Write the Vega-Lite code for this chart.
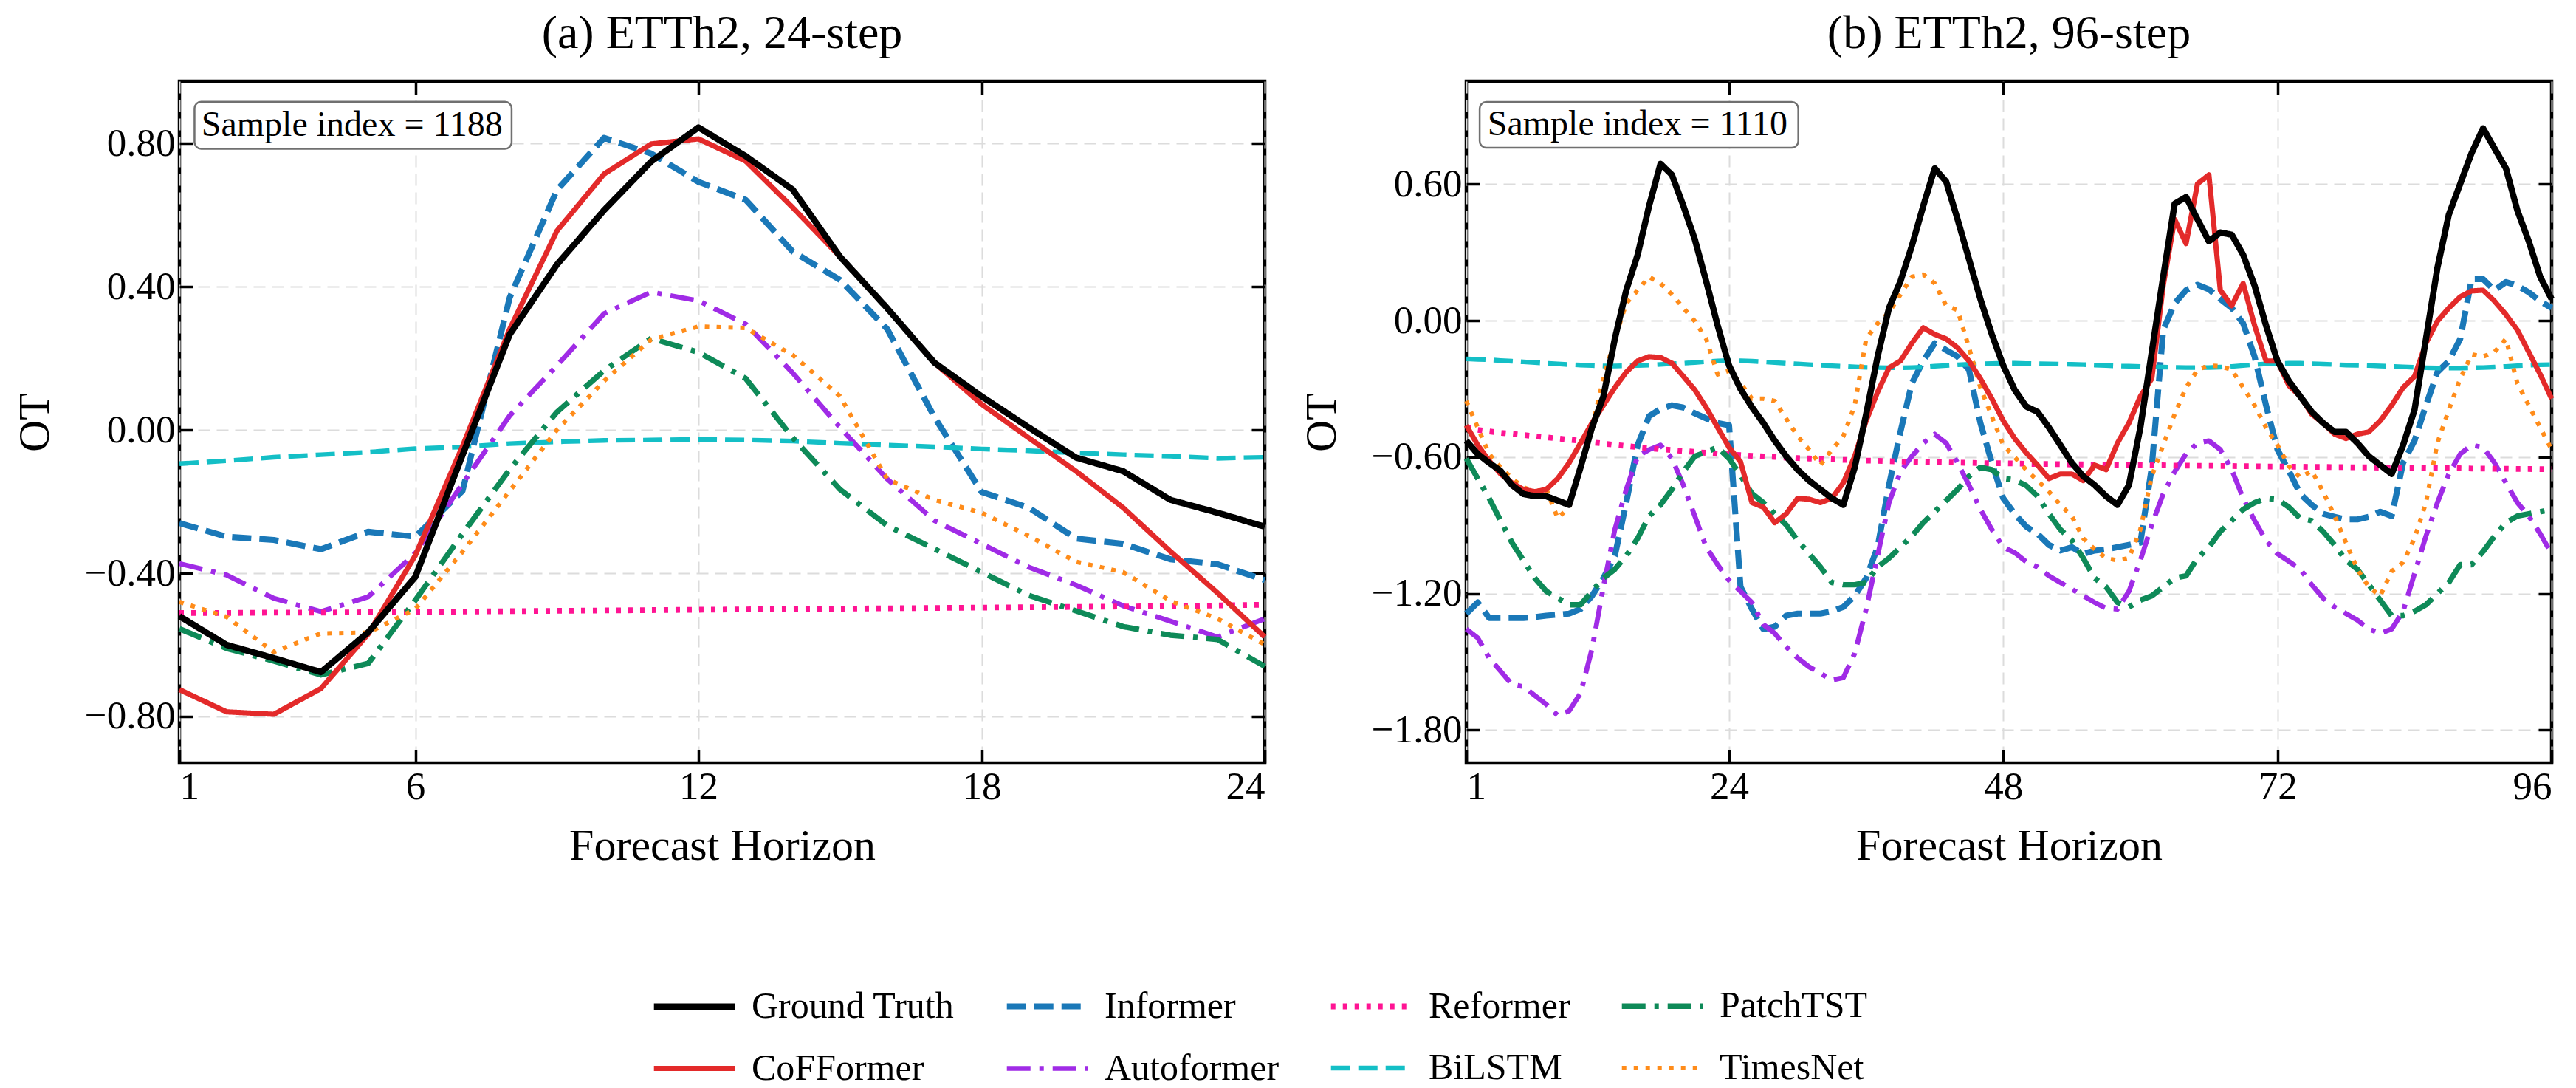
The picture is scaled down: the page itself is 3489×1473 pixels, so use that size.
{
  "$schema": "https://vega.github.io/schema/vega-lite/v6.json",
  "background": "white",
  "padding": {"left": 15, "top": 12, "right": 25, "bottom": 5},
  "config": {
    "font": "Liberation Serif",
    "view": {"stroke": "black", "strokeWidth": 4.5},
    "axis": {
      "domain": false,
      "tickSize": -18,
      "tickWidth": 3.5,
      "tickColor": "black",
      "labelFont": "Liberation Serif",
      "labelFontSize": 53,
      "labelColor": "black",
      "labelPadding": 24,
      "titleFont": "Liberation Serif",
      "titleFontSize": 60,
      "titleFontWeight": "normal",
      "titleColor": "black",
      "gridColor": "#dcdcdc",
      "gridDash": [16, 9],
      "gridWidth": 2
    },
    "title": {"font": "Liberation Serif", "fontSize": 64, "fontWeight": "normal", "color": "black", "offset": 30}
  },
  "datasets": {
    "h24": [
      {"step":1,"model":"Informer","OT":-0.26},{"step":2,"model":"Informer","OT":-0.298},{"step":3,"model":"Informer","OT":-0.307},{"step":4,"model":"Informer","OT":-0.333},{"step":5,"model":"Informer","OT":-0.284},{"step":6,"model":"Informer","OT":-0.298},{"step":7,"model":"Informer","OT":-0.17},{"step":8,"model":"Informer","OT":0.37},{"step":9,"model":"Informer","OT":0.67},{"step":10,"model":"Informer","OT":0.816},{"step":11,"model":"Informer","OT":0.772},{"step":12,"model":"Informer","OT":0.693},{"step":13,"model":"Informer","OT":0.643},{"step":14,"model":"Informer","OT":0.498},{"step":15,"model":"Informer","OT":0.419},{"step":16,"model":"Informer","OT":0.282},{"step":17,"model":"Informer","OT":0.036},{"step":18,"model":"Informer","OT":-0.173},{"step":19,"model":"Informer","OT":-0.217},{"step":20,"model":"Informer","OT":-0.303},{"step":21,"model":"Informer","OT":-0.318},{"step":22,"model":"Informer","OT":-0.361},{"step":23,"model":"Informer","OT":-0.375},{"step":24,"model":"Informer","OT":-0.419},
      {"step":1,"model":"Autoformer","OT":-0.373},{"step":2,"model":"Autoformer","OT":-0.405},{"step":3,"model":"Autoformer","OT":-0.47},{"step":4,"model":"Autoformer","OT":-0.507},{"step":5,"model":"Autoformer","OT":-0.466},{"step":6,"model":"Autoformer","OT":-0.344},{"step":7,"model":"Autoformer","OT":-0.15},{"step":8,"model":"Autoformer","OT":0.04},{"step":9,"model":"Autoformer","OT":0.18},{"step":10,"model":"Autoformer","OT":0.325},{"step":11,"model":"Autoformer","OT":0.385},{"step":12,"model":"Autoformer","OT":0.361},{"step":13,"model":"Autoformer","OT":0.296},{"step":14,"model":"Autoformer","OT":0.159},{"step":15,"model":"Autoformer","OT":0.007},{"step":16,"model":"Autoformer","OT":-0.137},{"step":17,"model":"Autoformer","OT":-0.253},{"step":18,"model":"Autoformer","OT":-0.318},{"step":19,"model":"Autoformer","OT":-0.383},{"step":20,"model":"Autoformer","OT":-0.433},{"step":21,"model":"Autoformer","OT":-0.491},{"step":22,"model":"Autoformer","OT":-0.534},{"step":23,"model":"Autoformer","OT":-0.578},{"step":24,"model":"Autoformer","OT":-0.527},
      {"step":1,"model":"Reformer","OT":-0.511},{"step":2,"model":"Reformer","OT":-0.511},{"step":3,"model":"Reformer","OT":-0.51},{"step":4,"model":"Reformer","OT":-0.51},{"step":5,"model":"Reformer","OT":-0.509},{"step":6,"model":"Reformer","OT":-0.508},{"step":7,"model":"Reformer","OT":-0.507},{"step":8,"model":"Reformer","OT":-0.506},{"step":9,"model":"Reformer","OT":-0.505},{"step":10,"model":"Reformer","OT":-0.504},{"step":11,"model":"Reformer","OT":-0.503},{"step":12,"model":"Reformer","OT":-0.502},{"step":13,"model":"Reformer","OT":-0.501},{"step":14,"model":"Reformer","OT":-0.5},{"step":15,"model":"Reformer","OT":-0.499},{"step":16,"model":"Reformer","OT":-0.498},{"step":17,"model":"Reformer","OT":-0.497},{"step":18,"model":"Reformer","OT":-0.496},{"step":19,"model":"Reformer","OT":-0.495},{"step":20,"model":"Reformer","OT":-0.494},{"step":21,"model":"Reformer","OT":-0.493},{"step":22,"model":"Reformer","OT":-0.492},{"step":23,"model":"Reformer","OT":-0.49},{"step":24,"model":"Reformer","OT":-0.488},
      {"step":1,"model":"BiLSTM","OT":-0.094},{"step":2,"model":"BiLSTM","OT":-0.086},{"step":3,"model":"BiLSTM","OT":-0.076},{"step":4,"model":"BiLSTM","OT":-0.069},{"step":5,"model":"BiLSTM","OT":-0.062},{"step":6,"model":"BiLSTM","OT":-0.052},{"step":7,"model":"BiLSTM","OT":-0.047},{"step":8,"model":"BiLSTM","OT":-0.038},{"step":9,"model":"BiLSTM","OT":-0.033},{"step":10,"model":"BiLSTM","OT":-0.029},{"step":11,"model":"BiLSTM","OT":-0.028},{"step":12,"model":"BiLSTM","OT":-0.026},{"step":13,"model":"BiLSTM","OT":-0.028},{"step":14,"model":"BiLSTM","OT":-0.031},{"step":15,"model":"BiLSTM","OT":-0.037},{"step":16,"model":"BiLSTM","OT":-0.042},{"step":17,"model":"BiLSTM","OT":-0.047},{"step":18,"model":"BiLSTM","OT":-0.053},{"step":19,"model":"BiLSTM","OT":-0.058},{"step":20,"model":"BiLSTM","OT":-0.064},{"step":21,"model":"BiLSTM","OT":-0.069},{"step":22,"model":"BiLSTM","OT":-0.073},{"step":23,"model":"BiLSTM","OT":-0.079},{"step":24,"model":"BiLSTM","OT":-0.076},
      {"step":1,"model":"PatchTST","OT":-0.555},{"step":2,"model":"PatchTST","OT":-0.61},{"step":3,"model":"PatchTST","OT":-0.645},{"step":4,"model":"PatchTST","OT":-0.684},{"step":5,"model":"PatchTST","OT":-0.652},{"step":6,"model":"PatchTST","OT":-0.475},{"step":7,"model":"PatchTST","OT":-0.29},{"step":8,"model":"PatchTST","OT":-0.11},{"step":9,"model":"PatchTST","OT":0.05},{"step":10,"model":"PatchTST","OT":0.166},{"step":11,"model":"PatchTST","OT":0.256},{"step":12,"model":"PatchTST","OT":0.217},{"step":13,"model":"PatchTST","OT":0.144},{"step":14,"model":"PatchTST","OT":-0.022},{"step":15,"model":"PatchTST","OT":-0.166},{"step":16,"model":"PatchTST","OT":-0.267},{"step":17,"model":"PatchTST","OT":-0.332},{"step":18,"model":"PatchTST","OT":-0.397},{"step":19,"model":"PatchTST","OT":-0.462},{"step":20,"model":"PatchTST","OT":-0.505},{"step":21,"model":"PatchTST","OT":-0.549},{"step":22,"model":"PatchTST","OT":-0.573},{"step":23,"model":"PatchTST","OT":-0.585},{"step":24,"model":"PatchTST","OT":-0.66},
      {"step":1,"model":"TimesNet","OT":-0.48},{"step":2,"model":"TimesNet","OT":-0.522},{"step":3,"model":"TimesNet","OT":-0.62},{"step":4,"model":"TimesNet","OT":-0.568},{"step":5,"model":"TimesNet","OT":-0.566},{"step":6,"model":"TimesNet","OT":-0.5},{"step":7,"model":"TimesNet","OT":-0.34},{"step":8,"model":"TimesNet","OT":-0.17},{"step":9,"model":"TimesNet","OT":0.0},{"step":10,"model":"TimesNet","OT":0.137},{"step":11,"model":"TimesNet","OT":0.253},{"step":12,"model":"TimesNet","OT":0.289},{"step":13,"model":"TimesNet","OT":0.285},{"step":14,"model":"TimesNet","OT":0.209},{"step":15,"model":"TimesNet","OT":0.094},{"step":16,"model":"TimesNet","OT":-0.137},{"step":17,"model":"TimesNet","OT":-0.195},{"step":18,"model":"TimesNet","OT":-0.231},{"step":19,"model":"TimesNet","OT":-0.296},{"step":20,"model":"TimesNet","OT":-0.368},{"step":21,"model":"TimesNet","OT":-0.397},{"step":22,"model":"TimesNet","OT":-0.477},{"step":23,"model":"TimesNet","OT":-0.527},{"step":24,"model":"TimesNet","OT":-0.599},
      {"step":1,"model":"CoFFormer","OT":-0.725},{"step":2,"model":"CoFFormer","OT":-0.787},{"step":3,"model":"CoFFormer","OT":-0.794},{"step":4,"model":"CoFFormer","OT":-0.722},{"step":5,"model":"CoFFormer","OT":-0.57},{"step":6,"model":"CoFFormer","OT":-0.35},{"step":7,"model":"CoFFormer","OT":-0.045},{"step":8,"model":"CoFFormer","OT":0.282},{"step":9,"model":"CoFFormer","OT":0.556},{"step":10,"model":"CoFFormer","OT":0.715},{"step":11,"model":"CoFFormer","OT":0.799},{"step":12,"model":"CoFFormer","OT":0.813},{"step":13,"model":"CoFFormer","OT":0.751},{"step":14,"model":"CoFFormer","OT":0.621},{"step":15,"model":"CoFFormer","OT":0.484},{"step":16,"model":"CoFFormer","OT":0.34},{"step":17,"model":"CoFFormer","OT":0.188},{"step":18,"model":"CoFFormer","OT":0.072},{"step":19,"model":"CoFFormer","OT":-0.022},{"step":20,"model":"CoFFormer","OT":-0.115},{"step":21,"model":"CoFFormer","OT":-0.217},{"step":22,"model":"CoFFormer","OT":-0.339},{"step":23,"model":"CoFFormer","OT":-0.455},{"step":24,"model":"CoFFormer","OT":-0.578},
      {"step":1,"model":"Ground Truth","OT":-0.52},{"step":2,"model":"Ground Truth","OT":-0.6},{"step":3,"model":"Ground Truth","OT":-0.637},{"step":4,"model":"Ground Truth","OT":-0.676},{"step":5,"model":"Ground Truth","OT":-0.565},{"step":6,"model":"Ground Truth","OT":-0.41},{"step":7,"model":"Ground Truth","OT":-0.07},{"step":8,"model":"Ground Truth","OT":0.267},{"step":9,"model":"Ground Truth","OT":0.462},{"step":10,"model":"Ground Truth","OT":0.614},{"step":11,"model":"Ground Truth","OT":0.75},{"step":12,"model":"Ground Truth","OT":0.845},{"step":13,"model":"Ground Truth","OT":0.765},{"step":14,"model":"Ground Truth","OT":0.671},{"step":15,"model":"Ground Truth","OT":0.484},{"step":16,"model":"Ground Truth","OT":0.34},{"step":17,"model":"Ground Truth","OT":0.188},{"step":18,"model":"Ground Truth","OT":0.094},{"step":19,"model":"Ground Truth","OT":0.007},{"step":20,"model":"Ground Truth","OT":-0.077},{"step":21,"model":"Ground Truth","OT":-0.115},{"step":22,"model":"Ground Truth","OT":-0.195},{"step":23,"model":"Ground Truth","OT":-0.231},{"step":24,"model":"Ground Truth","OT":-0.27}
    ],
    "h96": [
      {"step":1,"model":"Informer","OT":-1.288},{"step":2,"model":"Informer","OT":-1.239},{"step":3,"model":"Informer","OT":-1.307},{"step":4,"model":"Informer","OT":-1.307},{"step":5,"model":"Informer","OT":-1.307},{"step":6,"model":"Informer","OT":-1.307},{"step":7,"model":"Informer","OT":-1.303},{"step":8,"model":"Informer","OT":-1.297},{"step":9,"model":"Informer","OT":-1.293},{"step":10,"model":"Informer","OT":-1.288},
      {"step":11,"model":"Informer","OT":-1.268},{"step":12,"model":"Informer","OT":-1.21},{"step":13,"model":"Informer","OT":-1.132},{"step":14,"model":"Informer","OT":-1.034},{"step":15,"model":"Informer","OT":-0.8},{"step":16,"model":"Informer","OT":-0.547},{"step":17,"model":"Informer","OT":-0.42},{"step":18,"model":"Informer","OT":-0.388},{"step":19,"model":"Informer","OT":-0.372},{"step":20,"model":"Informer","OT":-0.382},
      {"step":21,"model":"Informer","OT":-0.407},{"step":22,"model":"Informer","OT":-0.43},{"step":23,"model":"Informer","OT":-0.45},{"step":24,"model":"Informer","OT":-0.46},{"step":25,"model":"Informer","OT":-1.17},{"step":26,"model":"Informer","OT":-1.268},{"step":27,"model":"Informer","OT":-1.356},{"step":28,"model":"Informer","OT":-1.346},{"step":29,"model":"Informer","OT":-1.297},{"step":30,"model":"Informer","OT":-1.288},
      {"step":31,"model":"Informer","OT":-1.288},{"step":32,"model":"Informer","OT":-1.288},{"step":33,"model":"Informer","OT":-1.278},{"step":34,"model":"Informer","OT":-1.259},{"step":35,"model":"Informer","OT":-1.21},{"step":36,"model":"Informer","OT":-1.132},{"step":37,"model":"Informer","OT":-0.996},{"step":38,"model":"Informer","OT":-0.723},{"step":39,"model":"Informer","OT":-0.489},{"step":40,"model":"Informer","OT":-0.275},
      {"step":41,"model":"Informer","OT":-0.177},{"step":42,"model":"Informer","OT":-0.099},{"step":43,"model":"Informer","OT":-0.129},{"step":44,"model":"Informer","OT":-0.158},{"step":45,"model":"Informer","OT":-0.216},{"step":46,"model":"Informer","OT":-0.45},{"step":47,"model":"Informer","OT":-0.625},{"step":48,"model":"Informer","OT":-0.781},{"step":49,"model":"Informer","OT":-0.85},{"step":50,"model":"Informer","OT":-0.905},
      {"step":51,"model":"Informer","OT":-0.937},{"step":52,"model":"Informer","OT":-0.986},{"step":53,"model":"Informer","OT":-1.011},{"step":54,"model":"Informer","OT":-0.996},{"step":55,"model":"Informer","OT":-1.025},{"step":56,"model":"Informer","OT":-1.011},{"step":57,"model":"Informer","OT":-1.005},{"step":58,"model":"Informer","OT":-0.996},{"step":59,"model":"Informer","OT":-0.986},{"step":60,"model":"Informer","OT":-0.976},
      {"step":61,"model":"Informer","OT":-0.645},{"step":62,"model":"Informer","OT":-0.041},{"step":63,"model":"Informer","OT":0.076},{"step":64,"model":"Informer","OT":0.134},{"step":65,"model":"Informer","OT":0.158},{"step":66,"model":"Informer","OT":0.138},{"step":67,"model":"Informer","OT":0.095},{"step":68,"model":"Informer","OT":0.056},{"step":69,"model":"Informer","OT":-0.012},{"step":70,"model":"Informer","OT":-0.158},
      {"step":71,"model":"Informer","OT":-0.372},{"step":72,"model":"Informer","OT":-0.567},{"step":73,"model":"Informer","OT":-0.66},{"step":74,"model":"Informer","OT":-0.762},{"step":75,"model":"Informer","OT":-0.81},{"step":76,"model":"Informer","OT":-0.849},{"step":77,"model":"Informer","OT":-0.862},{"step":78,"model":"Informer","OT":-0.874},{"step":79,"model":"Informer","OT":-0.874},{"step":80,"model":"Informer","OT":-0.862},
      {"step":81,"model":"Informer","OT":-0.84},{"step":82,"model":"Informer","OT":-0.859},{"step":83,"model":"Informer","OT":-0.625},{"step":84,"model":"Informer","OT":-0.528},{"step":85,"model":"Informer","OT":-0.372},{"step":86,"model":"Informer","OT":-0.226},{"step":87,"model":"Informer","OT":-0.177},{"step":88,"model":"Informer","OT":-0.08},{"step":89,"model":"Informer","OT":0.183},{"step":90,"model":"Informer","OT":0.183},
      {"step":91,"model":"Informer","OT":0.134},{"step":92,"model":"Informer","OT":0.17},{"step":93,"model":"Informer","OT":0.154},{"step":94,"model":"Informer","OT":0.125},{"step":95,"model":"Informer","OT":0.086},{"step":96,"model":"Informer","OT":0.056},

      {"step":1,"model":"Autoformer","OT":-1.356},{"step":2,"model":"Autoformer","OT":-1.395},{"step":3,"model":"Autoformer","OT":-1.483},{"step":4,"model":"Autoformer","OT":-1.541},{"step":5,"model":"Autoformer","OT":-1.6},{"step":6,"model":"Autoformer","OT":-1.609},{"step":7,"model":"Autoformer","OT":-1.648},{"step":8,"model":"Autoformer","OT":-1.687},{"step":9,"model":"Autoformer","OT":-1.736},{"step":10,"model":"Autoformer","OT":-1.716},
      {"step":11,"model":"Autoformer","OT":-1.638},{"step":12,"model":"Autoformer","OT":-1.444},{"step":13,"model":"Autoformer","OT":-1.171},{"step":14,"model":"Autoformer","OT":-0.918},{"step":15,"model":"Autoformer","OT":-0.742},{"step":16,"model":"Autoformer","OT":-0.596},{"step":17,"model":"Autoformer","OT":-0.567},{"step":18,"model":"Autoformer","OT":-0.547},{"step":19,"model":"Autoformer","OT":-0.606},{"step":20,"model":"Autoformer","OT":-0.723},
      {"step":21,"model":"Autoformer","OT":-0.859},{"step":22,"model":"Autoformer","OT":-0.996},{"step":23,"model":"Autoformer","OT":-1.073},{"step":24,"model":"Autoformer","OT":-1.142},{"step":25,"model":"Autoformer","OT":-1.19},{"step":26,"model":"Autoformer","OT":-1.239},{"step":27,"model":"Autoformer","OT":-1.336},{"step":28,"model":"Autoformer","OT":-1.375},{"step":29,"model":"Autoformer","OT":-1.434},{"step":30,"model":"Autoformer","OT":-1.483},
      {"step":31,"model":"Autoformer","OT":-1.522},{"step":32,"model":"Autoformer","OT":-1.551},{"step":33,"model":"Autoformer","OT":-1.58},{"step":34,"model":"Autoformer","OT":-1.57},{"step":35,"model":"Autoformer","OT":-1.463},{"step":36,"model":"Autoformer","OT":-1.268},{"step":37,"model":"Autoformer","OT":-1.034},{"step":38,"model":"Autoformer","OT":-0.8},{"step":39,"model":"Autoformer","OT":-0.664},{"step":40,"model":"Autoformer","OT":-0.596},
      {"step":41,"model":"Autoformer","OT":-0.538},{"step":42,"model":"Autoformer","OT":-0.499},{"step":43,"model":"Autoformer","OT":-0.538},{"step":44,"model":"Autoformer","OT":-0.625},{"step":45,"model":"Autoformer","OT":-0.723},{"step":46,"model":"Autoformer","OT":-0.83},{"step":47,"model":"Autoformer","OT":-0.918},{"step":48,"model":"Autoformer","OT":-0.996},{"step":49,"model":"Autoformer","OT":-1.02},{"step":50,"model":"Autoformer","OT":-1.06},
      {"step":51,"model":"Autoformer","OT":-1.083},{"step":52,"model":"Autoformer","OT":-1.122},{"step":53,"model":"Autoformer","OT":-1.151},{"step":54,"model":"Autoformer","OT":-1.181},{"step":55,"model":"Autoformer","OT":-1.21},{"step":56,"model":"Autoformer","OT":-1.239},{"step":57,"model":"Autoformer","OT":-1.265},{"step":58,"model":"Autoformer","OT":-1.268},{"step":59,"model":"Autoformer","OT":-1.19},{"step":60,"model":"Autoformer","OT":-1.054},
      {"step":61,"model":"Autoformer","OT":-0.898},{"step":62,"model":"Autoformer","OT":-0.762},{"step":63,"model":"Autoformer","OT":-0.664},{"step":64,"model":"Autoformer","OT":-0.586},{"step":65,"model":"Autoformer","OT":-0.538},{"step":66,"model":"Autoformer","OT":-0.528},{"step":67,"model":"Autoformer","OT":-0.567},{"step":68,"model":"Autoformer","OT":-0.655},{"step":69,"model":"Autoformer","OT":-0.781},{"step":70,"model":"Autoformer","OT":-0.879},
      {"step":71,"model":"Autoformer","OT":-0.966},{"step":72,"model":"Autoformer","OT":-1.025},{"step":73,"model":"Autoformer","OT":-1.058},{"step":74,"model":"Autoformer","OT":-1.093},{"step":75,"model":"Autoformer","OT":-1.161},{"step":76,"model":"Autoformer","OT":-1.22},{"step":77,"model":"Autoformer","OT":-1.259},{"step":78,"model":"Autoformer","OT":-1.288},{"step":79,"model":"Autoformer","OT":-1.317},{"step":80,"model":"Autoformer","OT":-1.356},
      {"step":81,"model":"Autoformer","OT":-1.375},{"step":82,"model":"Autoformer","OT":-1.356},{"step":83,"model":"Autoformer","OT":-1.278},{"step":84,"model":"Autoformer","OT":-1.112},{"step":85,"model":"Autoformer","OT":-0.947},{"step":86,"model":"Autoformer","OT":-0.8},{"step":87,"model":"Autoformer","OT":-0.674},{"step":88,"model":"Autoformer","OT":-0.586},{"step":89,"model":"Autoformer","OT":-0.547},{"step":90,"model":"Autoformer","OT":-0.557},
      {"step":91,"model":"Autoformer","OT":-0.625},{"step":92,"model":"Autoformer","OT":-0.713},{"step":93,"model":"Autoformer","OT":-0.8},{"step":94,"model":"Autoformer","OT":-0.859},{"step":95,"model":"Autoformer","OT":-0.937},{"step":96,"model":"Autoformer","OT":-1.025},

      {"step":1,"model":"Reformer","OT":-0.47},{"step":2,"model":"Reformer","OT":-0.48},{"step":3,"model":"Reformer","OT":-0.487},{"step":4,"model":"Reformer","OT":-0.493},{"step":5,"model":"Reformer","OT":-0.498},{"step":6,"model":"Reformer","OT":-0.503},{"step":7,"model":"Reformer","OT":-0.508},{"step":8,"model":"Reformer","OT":-0.513},{"step":9,"model":"Reformer","OT":-0.518},{"step":10,"model":"Reformer","OT":-0.523},
      {"step":11,"model":"Reformer","OT":-0.528},{"step":12,"model":"Reformer","OT":-0.535},{"step":13,"model":"Reformer","OT":-0.54},{"step":14,"model":"Reformer","OT":-0.546},{"step":15,"model":"Reformer","OT":-0.551},{"step":16,"model":"Reformer","OT":-0.556},{"step":17,"model":"Reformer","OT":-0.56},{"step":18,"model":"Reformer","OT":-0.565},{"step":19,"model":"Reformer","OT":-0.569},{"step":20,"model":"Reformer","OT":-0.573},
      {"step":21,"model":"Reformer","OT":-0.577},{"step":22,"model":"Reformer","OT":-0.581},{"step":23,"model":"Reformer","OT":-0.585},{"step":24,"model":"Reformer","OT":-0.588},{"step":25,"model":"Reformer","OT":-0.591},{"step":26,"model":"Reformer","OT":-0.594},{"step":27,"model":"Reformer","OT":-0.597},{"step":28,"model":"Reformer","OT":-0.599},{"step":29,"model":"Reformer","OT":-0.602},{"step":30,"model":"Reformer","OT":-0.604},
      {"step":31,"model":"Reformer","OT":-0.606},{"step":32,"model":"Reformer","OT":-0.608},{"step":33,"model":"Reformer","OT":-0.61},{"step":34,"model":"Reformer","OT":-0.612},{"step":35,"model":"Reformer","OT":-0.613},{"step":36,"model":"Reformer","OT":-0.615},{"step":37,"model":"Reformer","OT":-0.616},{"step":38,"model":"Reformer","OT":-0.618},{"step":39,"model":"Reformer","OT":-0.619},{"step":40,"model":"Reformer","OT":-0.62},
      {"step":41,"model":"Reformer","OT":-0.621},{"step":42,"model":"Reformer","OT":-0.622},{"step":43,"model":"Reformer","OT":-0.623},{"step":44,"model":"Reformer","OT":-0.624},{"step":45,"model":"Reformer","OT":-0.625},{"step":46,"model":"Reformer","OT":-0.626},{"step":47,"model":"Reformer","OT":-0.627},{"step":48,"model":"Reformer","OT":-0.627},{"step":49,"model":"Reformer","OT":-0.628},{"step":50,"model":"Reformer","OT":-0.629},
      {"step":51,"model":"Reformer","OT":-0.63},{"step":52,"model":"Reformer","OT":-0.63},{"step":53,"model":"Reformer","OT":-0.631},{"step":54,"model":"Reformer","OT":-0.632},{"step":55,"model":"Reformer","OT":-0.632},{"step":56,"model":"Reformer","OT":-0.633},{"step":57,"model":"Reformer","OT":-0.634},{"step":58,"model":"Reformer","OT":-0.634},{"step":59,"model":"Reformer","OT":-0.635},{"step":60,"model":"Reformer","OT":-0.635},
      {"step":61,"model":"Reformer","OT":-0.636},{"step":62,"model":"Reformer","OT":-0.636},{"step":63,"model":"Reformer","OT":-0.637},{"step":64,"model":"Reformer","OT":-0.637},{"step":65,"model":"Reformer","OT":-0.638},{"step":66,"model":"Reformer","OT":-0.638},{"step":67,"model":"Reformer","OT":-0.639},{"step":68,"model":"Reformer","OT":-0.639},{"step":69,"model":"Reformer","OT":-0.64},{"step":70,"model":"Reformer","OT":-0.64},
      {"step":71,"model":"Reformer","OT":-0.641},{"step":72,"model":"Reformer","OT":-0.641},{"step":73,"model":"Reformer","OT":-0.642},{"step":74,"model":"Reformer","OT":-0.642},{"step":75,"model":"Reformer","OT":-0.643},{"step":76,"model":"Reformer","OT":-0.643},{"step":77,"model":"Reformer","OT":-0.644},{"step":78,"model":"Reformer","OT":-0.644},{"step":79,"model":"Reformer","OT":-0.645},{"step":80,"model":"Reformer","OT":-0.645},
      {"step":81,"model":"Reformer","OT":-0.646},{"step":82,"model":"Reformer","OT":-0.646},{"step":83,"model":"Reformer","OT":-0.647},{"step":84,"model":"Reformer","OT":-0.647},{"step":85,"model":"Reformer","OT":-0.648},{"step":86,"model":"Reformer","OT":-0.648},{"step":87,"model":"Reformer","OT":-0.649},{"step":88,"model":"Reformer","OT":-0.649},{"step":89,"model":"Reformer","OT":-0.65},{"step":90,"model":"Reformer","OT":-0.65},
      {"step":91,"model":"Reformer","OT":-0.651},{"step":92,"model":"Reformer","OT":-0.651},{"step":93,"model":"Reformer","OT":-0.652},{"step":94,"model":"Reformer","OT":-0.652},{"step":95,"model":"Reformer","OT":-0.653},{"step":96,"model":"Reformer","OT":-0.653},

      {"step":1,"model":"BiLSTM","OT":-0.168},{"step":2,"model":"BiLSTM","OT":-0.17},{"step":3,"model":"BiLSTM","OT":-0.172},{"step":4,"model":"BiLSTM","OT":-0.175},{"step":5,"model":"BiLSTM","OT":-0.178},{"step":6,"model":"BiLSTM","OT":-0.181},{"step":7,"model":"BiLSTM","OT":-0.184},{"step":8,"model":"BiLSTM","OT":-0.187},{"step":9,"model":"BiLSTM","OT":-0.19},{"step":10,"model":"BiLSTM","OT":-0.193},
      {"step":11,"model":"BiLSTM","OT":-0.195},{"step":12,"model":"BiLSTM","OT":-0.197},{"step":13,"model":"BiLSTM","OT":-0.199},{"step":14,"model":"BiLSTM","OT":-0.199},{"step":15,"model":"BiLSTM","OT":-0.198},{"step":16,"model":"BiLSTM","OT":-0.197},{"step":17,"model":"BiLSTM","OT":-0.195},{"step":18,"model":"BiLSTM","OT":-0.192},{"step":19,"model":"BiLSTM","OT":-0.189},{"step":20,"model":"BiLSTM","OT":-0.187},
      {"step":21,"model":"BiLSTM","OT":-0.184},{"step":22,"model":"BiLSTM","OT":-0.18},{"step":23,"model":"BiLSTM","OT":-0.177},{"step":24,"model":"BiLSTM","OT":-0.175},{"step":25,"model":"BiLSTM","OT":-0.176},{"step":26,"model":"BiLSTM","OT":-0.178},{"step":27,"model":"BiLSTM","OT":-0.181},{"step":28,"model":"BiLSTM","OT":-0.184},{"step":29,"model":"BiLSTM","OT":-0.187},{"step":30,"model":"BiLSTM","OT":-0.19},
      {"step":31,"model":"BiLSTM","OT":-0.193},{"step":32,"model":"BiLSTM","OT":-0.196},{"step":33,"model":"BiLSTM","OT":-0.198},{"step":34,"model":"BiLSTM","OT":-0.2},{"step":35,"model":"BiLSTM","OT":-0.203},{"step":36,"model":"BiLSTM","OT":-0.205},{"step":37,"model":"BiLSTM","OT":-0.206},{"step":38,"model":"BiLSTM","OT":-0.207},{"step":39,"model":"BiLSTM","OT":-0.207},{"step":40,"model":"BiLSTM","OT":-0.206},
      {"step":41,"model":"BiLSTM","OT":-0.204},{"step":42,"model":"BiLSTM","OT":-0.2},{"step":43,"model":"BiLSTM","OT":-0.197},{"step":44,"model":"BiLSTM","OT":-0.194},{"step":45,"model":"BiLSTM","OT":-0.192},{"step":46,"model":"BiLSTM","OT":-0.19},{"step":47,"model":"BiLSTM","OT":-0.188},{"step":48,"model":"BiLSTM","OT":-0.187},{"step":49,"model":"BiLSTM","OT":-0.187},{"step":50,"model":"BiLSTM","OT":-0.188},
      {"step":51,"model":"BiLSTM","OT":-0.189},{"step":52,"model":"BiLSTM","OT":-0.19},{"step":53,"model":"BiLSTM","OT":-0.191},{"step":54,"model":"BiLSTM","OT":-0.192},{"step":55,"model":"BiLSTM","OT":-0.193},{"step":56,"model":"BiLSTM","OT":-0.195},{"step":57,"model":"BiLSTM","OT":-0.197},{"step":58,"model":"BiLSTM","OT":-0.199},{"step":59,"model":"BiLSTM","OT":-0.2},{"step":60,"model":"BiLSTM","OT":-0.201},
      {"step":61,"model":"BiLSTM","OT":-0.203},{"step":62,"model":"BiLSTM","OT":-0.204},{"step":63,"model":"BiLSTM","OT":-0.205},{"step":64,"model":"BiLSTM","OT":-0.206},{"step":65,"model":"BiLSTM","OT":-0.206},{"step":66,"model":"BiLSTM","OT":-0.206},{"step":67,"model":"BiLSTM","OT":-0.204},{"step":68,"model":"BiLSTM","OT":-0.201},{"step":69,"model":"BiLSTM","OT":-0.197},{"step":70,"model":"BiLSTM","OT":-0.193},
      {"step":71,"model":"BiLSTM","OT":-0.19},{"step":72,"model":"BiLSTM","OT":-0.188},{"step":73,"model":"BiLSTM","OT":-0.187},{"step":74,"model":"BiLSTM","OT":-0.187},{"step":75,"model":"BiLSTM","OT":-0.189},{"step":76,"model":"BiLSTM","OT":-0.191},{"step":77,"model":"BiLSTM","OT":-0.193},{"step":78,"model":"BiLSTM","OT":-0.195},{"step":79,"model":"BiLSTM","OT":-0.196},{"step":80,"model":"BiLSTM","OT":-0.197},
      {"step":81,"model":"BiLSTM","OT":-0.199},{"step":82,"model":"BiLSTM","OT":-0.201},{"step":83,"model":"BiLSTM","OT":-0.203},{"step":84,"model":"BiLSTM","OT":-0.205},{"step":85,"model":"BiLSTM","OT":-0.207},{"step":86,"model":"BiLSTM","OT":-0.208},{"step":87,"model":"BiLSTM","OT":-0.208},{"step":88,"model":"BiLSTM","OT":-0.208},{"step":89,"model":"BiLSTM","OT":-0.207},{"step":90,"model":"BiLSTM","OT":-0.206},
      {"step":91,"model":"BiLSTM","OT":-0.204},{"step":92,"model":"BiLSTM","OT":-0.201},{"step":93,"model":"BiLSTM","OT":-0.198},{"step":94,"model":"BiLSTM","OT":-0.196},{"step":95,"model":"BiLSTM","OT":-0.194},{"step":96,"model":"BiLSTM","OT":-0.193},

      {"step":1,"model":"PatchTST","OT":-0.606},{"step":2,"model":"PatchTST","OT":-0.694},{"step":3,"model":"PatchTST","OT":-0.781},{"step":4,"model":"PatchTST","OT":-0.879},{"step":5,"model":"PatchTST","OT":-0.976},{"step":6,"model":"PatchTST","OT":-1.054},{"step":7,"model":"PatchTST","OT":-1.132},{"step":8,"model":"PatchTST","OT":-1.19},{"step":9,"model":"PatchTST","OT":-1.22},{"step":10,"model":"PatchTST","OT":-1.249},
      {"step":11,"model":"PatchTST","OT":-1.249},{"step":12,"model":"PatchTST","OT":-1.19},{"step":13,"model":"PatchTST","OT":-1.132},{"step":14,"model":"PatchTST","OT":-1.093},{"step":15,"model":"PatchTST","OT":-1.034},{"step":16,"model":"PatchTST","OT":-0.957},{"step":17,"model":"PatchTST","OT":-0.859},{"step":18,"model":"PatchTST","OT":-0.81},{"step":19,"model":"PatchTST","OT":-0.742},{"step":20,"model":"PatchTST","OT":-0.664},
      {"step":21,"model":"PatchTST","OT":-0.596},{"step":22,"model":"PatchTST","OT":-0.577},{"step":23,"model":"PatchTST","OT":-0.557},{"step":24,"model":"PatchTST","OT":-0.606},{"step":25,"model":"PatchTST","OT":-0.68},{"step":26,"model":"PatchTST","OT":-0.76},{"step":27,"model":"PatchTST","OT":-0.8},{"step":28,"model":"PatchTST","OT":-0.849},{"step":29,"model":"PatchTST","OT":-0.898},{"step":30,"model":"PatchTST","OT":-0.966},
      {"step":31,"model":"PatchTST","OT":-1.025},{"step":32,"model":"PatchTST","OT":-1.083},{"step":33,"model":"PatchTST","OT":-1.151},{"step":34,"model":"PatchTST","OT":-1.161},{"step":35,"model":"PatchTST","OT":-1.161},{"step":36,"model":"PatchTST","OT":-1.151},{"step":37,"model":"PatchTST","OT":-1.083},{"step":38,"model":"PatchTST","OT":-1.044},{"step":39,"model":"PatchTST","OT":-0.996},{"step":40,"model":"PatchTST","OT":-0.947},
      {"step":41,"model":"PatchTST","OT":-0.888},{"step":42,"model":"PatchTST","OT":-0.84},{"step":43,"model":"PatchTST","OT":-0.791},{"step":44,"model":"PatchTST","OT":-0.742},{"step":45,"model":"PatchTST","OT":-0.684},{"step":46,"model":"PatchTST","OT":-0.645},{"step":47,"model":"PatchTST","OT":-0.655},{"step":48,"model":"PatchTST","OT":-0.694},{"step":49,"model":"PatchTST","OT":-0.7},{"step":50,"model":"PatchTST","OT":-0.725},
      {"step":51,"model":"PatchTST","OT":-0.772},{"step":52,"model":"PatchTST","OT":-0.849},{"step":53,"model":"PatchTST","OT":-0.918},{"step":54,"model":"PatchTST","OT":-0.966},{"step":55,"model":"PatchTST","OT":-1.044},{"step":56,"model":"PatchTST","OT":-1.132},{"step":57,"model":"PatchTST","OT":-1.171},{"step":58,"model":"PatchTST","OT":-1.239},{"step":59,"model":"PatchTST","OT":-1.259},{"step":60,"model":"PatchTST","OT":-1.229},
      {"step":61,"model":"PatchTST","OT":-1.21},{"step":62,"model":"PatchTST","OT":-1.171},{"step":63,"model":"PatchTST","OT":-1.132},{"step":64,"model":"PatchTST","OT":-1.122},{"step":65,"model":"PatchTST","OT":-1.044},{"step":66,"model":"PatchTST","OT":-0.996},{"step":67,"model":"PatchTST","OT":-0.927},{"step":68,"model":"PatchTST","OT":-0.879},{"step":69,"model":"PatchTST","OT":-0.83},{"step":70,"model":"PatchTST","OT":-0.8},
      {"step":71,"model":"PatchTST","OT":-0.781},{"step":72,"model":"PatchTST","OT":-0.785},{"step":73,"model":"PatchTST","OT":-0.82},{"step":74,"model":"PatchTST","OT":-0.869},{"step":75,"model":"PatchTST","OT":-0.879},{"step":76,"model":"PatchTST","OT":-0.927},{"step":77,"model":"PatchTST","OT":-0.986},{"step":78,"model":"PatchTST","OT":-1.054},{"step":79,"model":"PatchTST","OT":-1.093},{"step":80,"model":"PatchTST","OT":-1.161},
      {"step":81,"model":"PatchTST","OT":-1.229},{"step":82,"model":"PatchTST","OT":-1.297},{"step":83,"model":"PatchTST","OT":-1.297},{"step":84,"model":"PatchTST","OT":-1.278},{"step":85,"model":"PatchTST","OT":-1.249},{"step":86,"model":"PatchTST","OT":-1.2},{"step":87,"model":"PatchTST","OT":-1.151},{"step":88,"model":"PatchTST","OT":-1.073},{"step":89,"model":"PatchTST","OT":-1.073},{"step":90,"model":"PatchTST","OT":-1.015},
      {"step":91,"model":"PatchTST","OT":-0.947},{"step":92,"model":"PatchTST","OT":-0.888},{"step":93,"model":"PatchTST","OT":-0.859},{"step":94,"model":"PatchTST","OT":-0.849},{"step":95,"model":"PatchTST","OT":-0.84},{"step":96,"model":"PatchTST","OT":-0.83},

      {"step":1,"model":"TimesNet","OT":-0.353},{"step":2,"model":"TimesNet","OT":-0.47},{"step":3,"model":"TimesNet","OT":-0.586},{"step":4,"model":"TimesNet","OT":-0.645},{"step":5,"model":"TimesNet","OT":-0.694},{"step":6,"model":"TimesNet","OT":-0.733},{"step":7,"model":"TimesNet","OT":-0.752},{"step":8,"model":"TimesNet","OT":-0.74},{"step":9,"model":"TimesNet","OT":-0.869},{"step":10,"model":"TimesNet","OT":-0.82},
      {"step":11,"model":"TimesNet","OT":-0.645},{"step":12,"model":"TimesNet","OT":-0.47},{"step":13,"model":"TimesNet","OT":-0.255},{"step":14,"model":"TimesNet","OT":-0.08},{"step":15,"model":"TimesNet","OT":0.076},{"step":16,"model":"TimesNet","OT":0.134},{"step":17,"model":"TimesNet","OT":0.193},{"step":18,"model":"TimesNet","OT":0.164},{"step":19,"model":"TimesNet","OT":0.115},{"step":20,"model":"TimesNet","OT":0.056},
      {"step":21,"model":"TimesNet","OT":-0.002},{"step":22,"model":"TimesNet","OT":-0.08},{"step":23,"model":"TimesNet","OT":-0.236},{"step":24,"model":"TimesNet","OT":-0.22},{"step":25,"model":"TimesNet","OT":-0.275},{"step":26,"model":"TimesNet","OT":-0.343},{"step":27,"model":"TimesNet","OT":-0.343},{"step":28,"model":"TimesNet","OT":-0.353},{"step":29,"model":"TimesNet","OT":-0.431},{"step":30,"model":"TimesNet","OT":-0.508},
      {"step":31,"model":"TimesNet","OT":-0.567},{"step":32,"model":"TimesNet","OT":-0.635},{"step":33,"model":"TimesNet","OT":-0.567},{"step":34,"model":"TimesNet","OT":-0.508},{"step":35,"model":"TimesNet","OT":-0.372},{"step":36,"model":"TimesNet","OT":-0.08},{"step":37,"model":"TimesNet","OT":-0.012},{"step":38,"model":"TimesNet","OT":0.037},{"step":39,"model":"TimesNet","OT":0.115},{"step":40,"model":"TimesNet","OT":0.193},
      {"step":41,"model":"TimesNet","OT":0.203},{"step":42,"model":"TimesNet","OT":0.164},{"step":43,"model":"TimesNet","OT":0.066},{"step":44,"model":"TimesNet","OT":0.047},{"step":45,"model":"TimesNet","OT":-0.119},{"step":46,"model":"TimesNet","OT":-0.294},{"step":47,"model":"TimesNet","OT":-0.421},{"step":48,"model":"TimesNet","OT":-0.547},{"step":49,"model":"TimesNet","OT":-0.6},{"step":50,"model":"TimesNet","OT":-0.655},
      {"step":51,"model":"TimesNet","OT":-0.703},{"step":52,"model":"TimesNet","OT":-0.752},{"step":53,"model":"TimesNet","OT":-0.81},{"step":54,"model":"TimesNet","OT":-0.859},{"step":55,"model":"TimesNet","OT":-0.957},{"step":56,"model":"TimesNet","OT":-1.005},{"step":57,"model":"TimesNet","OT":-1.044},{"step":58,"model":"TimesNet","OT":-1.054},{"step":59,"model":"TimesNet","OT":-1.044},{"step":60,"model":"TimesNet","OT":-0.918},
      {"step":61,"model":"TimesNet","OT":-0.684},{"step":62,"model":"TimesNet","OT":-0.547},{"step":63,"model":"TimesNet","OT":-0.411},{"step":64,"model":"TimesNet","OT":-0.294},{"step":65,"model":"TimesNet","OT":-0.216},{"step":66,"model":"TimesNet","OT":-0.197},{"step":67,"model":"TimesNet","OT":-0.2},{"step":68,"model":"TimesNet","OT":-0.216},{"step":69,"model":"TimesNet","OT":-0.294},{"step":70,"model":"TimesNet","OT":-0.372},
      {"step":71,"model":"TimesNet","OT":-0.47},{"step":72,"model":"TimesNet","OT":-0.547},{"step":73,"model":"TimesNet","OT":-0.64},{"step":74,"model":"TimesNet","OT":-0.69},{"step":75,"model":"TimesNet","OT":-0.66},{"step":76,"model":"TimesNet","OT":-0.752},{"step":77,"model":"TimesNet","OT":-0.859},{"step":78,"model":"TimesNet","OT":-0.976},{"step":79,"model":"TimesNet","OT":-1.093},{"step":80,"model":"TimesNet","OT":-1.171},
      {"step":81,"model":"TimesNet","OT":-1.21},{"step":82,"model":"TimesNet","OT":-1.102},{"step":83,"model":"TimesNet","OT":-1.063},{"step":84,"model":"TimesNet","OT":-0.957},{"step":85,"model":"TimesNet","OT":-0.8},{"step":86,"model":"TimesNet","OT":-0.538},{"step":87,"model":"TimesNet","OT":-0.392},{"step":88,"model":"TimesNet","OT":-0.255},{"step":89,"model":"TimesNet","OT":-0.148},{"step":90,"model":"TimesNet","OT":-0.158},
      {"step":91,"model":"TimesNet","OT":-0.138},{"step":92,"model":"TimesNet","OT":-0.08},{"step":93,"model":"TimesNet","OT":-0.275},{"step":94,"model":"TimesNet","OT":-0.372},{"step":95,"model":"TimesNet","OT":-0.47},{"step":96,"model":"TimesNet","OT":-0.567},

      {"step":1,"model":"CoFFormer","OT":-0.46},{"step":2,"model":"CoFFormer","OT":-0.547},{"step":3,"model":"CoFFormer","OT":-0.616},{"step":4,"model":"CoFFormer","OT":-0.674},{"step":5,"model":"CoFFormer","OT":-0.713},{"step":6,"model":"CoFFormer","OT":-0.742},{"step":7,"model":"CoFFormer","OT":-0.752},{"step":8,"model":"CoFFormer","OT":-0.742},{"step":9,"model":"CoFFormer","OT":-0.694},{"step":10,"model":"CoFFormer","OT":-0.625},
      {"step":11,"model":"CoFFormer","OT":-0.538},{"step":12,"model":"CoFFormer","OT":-0.45},{"step":13,"model":"CoFFormer","OT":-0.372},{"step":14,"model":"CoFFormer","OT":-0.294},{"step":15,"model":"CoFFormer","OT":-0.226},{"step":16,"model":"CoFFormer","OT":-0.177},{"step":17,"model":"CoFFormer","OT":-0.158},{"step":18,"model":"CoFFormer","OT":-0.162},{"step":19,"model":"CoFFormer","OT":-0.187},{"step":20,"model":"CoFFormer","OT":-0.245},
      {"step":21,"model":"CoFFormer","OT":-0.304},{"step":22,"model":"CoFFormer","OT":-0.382},{"step":23,"model":"CoFFormer","OT":-0.47},{"step":24,"model":"CoFFormer","OT":-0.557},{"step":25,"model":"CoFFormer","OT":-0.62},{"step":26,"model":"CoFFormer","OT":-0.8},{"step":27,"model":"CoFFormer","OT":-0.82},{"step":28,"model":"CoFFormer","OT":-0.888},{"step":29,"model":"CoFFormer","OT":-0.849},{"step":30,"model":"CoFFormer","OT":-0.781},
      {"step":31,"model":"CoFFormer","OT":-0.785},{"step":32,"model":"CoFFormer","OT":-0.8},{"step":33,"model":"CoFFormer","OT":-0.781},{"step":34,"model":"CoFFormer","OT":-0.713},{"step":35,"model":"CoFFormer","OT":-0.596},{"step":36,"model":"CoFFormer","OT":-0.44},{"step":37,"model":"CoFFormer","OT":-0.314},{"step":38,"model":"CoFFormer","OT":-0.207},{"step":39,"model":"CoFFormer","OT":-0.177},{"step":40,"model":"CoFFormer","OT":-0.099},
      {"step":41,"model":"CoFFormer","OT":-0.031},{"step":42,"model":"CoFFormer","OT":-0.06},{"step":43,"model":"CoFFormer","OT":-0.08},{"step":44,"model":"CoFFormer","OT":-0.119},{"step":45,"model":"CoFFormer","OT":-0.177},{"step":46,"model":"CoFFormer","OT":-0.255},{"step":47,"model":"CoFFormer","OT":-0.343},{"step":48,"model":"CoFFormer","OT":-0.44},{"step":49,"model":"CoFFormer","OT":-0.518},{"step":50,"model":"CoFFormer","OT":-0.58},
      {"step":51,"model":"CoFFormer","OT":-0.635},{"step":52,"model":"CoFFormer","OT":-0.694},{"step":53,"model":"CoFFormer","OT":-0.674},{"step":54,"model":"CoFFormer","OT":-0.674},{"step":55,"model":"CoFFormer","OT":-0.703},{"step":56,"model":"CoFFormer","OT":-0.635},{"step":57,"model":"CoFFormer","OT":-0.655},{"step":58,"model":"CoFFormer","OT":-0.538},{"step":59,"model":"CoFFormer","OT":-0.45},{"step":60,"model":"CoFFormer","OT":-0.333},
      {"step":61,"model":"CoFFormer","OT":-0.255},{"step":62,"model":"CoFFormer","OT":0.154},{"step":63,"model":"CoFFormer","OT":0.446},{"step":64,"model":"CoFFormer","OT":0.339},{"step":65,"model":"CoFFormer","OT":0.602},{"step":66,"model":"CoFFormer","OT":0.641},{"step":67,"model":"CoFFormer","OT":0.134},{"step":68,"model":"CoFFormer","OT":0.066},{"step":69,"model":"CoFFormer","OT":0.164},{"step":70,"model":"CoFFormer","OT":-0.021},
      {"step":71,"model":"CoFFormer","OT":-0.177},{"step":72,"model":"CoFFormer","OT":-0.177},{"step":73,"model":"CoFFormer","OT":-0.285},{"step":74,"model":"CoFFormer","OT":-0.333},{"step":75,"model":"CoFFormer","OT":-0.411},{"step":76,"model":"CoFFormer","OT":-0.45},{"step":77,"model":"CoFFormer","OT":-0.499},{"step":78,"model":"CoFFormer","OT":-0.518},{"step":79,"model":"CoFFormer","OT":-0.499},{"step":80,"model":"CoFFormer","OT":-0.489},
      {"step":81,"model":"CoFFormer","OT":-0.44},{"step":82,"model":"CoFFormer","OT":-0.372},{"step":83,"model":"CoFFormer","OT":-0.294},{"step":84,"model":"CoFFormer","OT":-0.245},{"step":85,"model":"CoFFormer","OT":-0.099},{"step":86,"model":"CoFFormer","OT":-0.002},{"step":87,"model":"CoFFormer","OT":0.056},{"step":88,"model":"CoFFormer","OT":0.105},{"step":89,"model":"CoFFormer","OT":0.131},{"step":90,"model":"CoFFormer","OT":0.134},
      {"step":91,"model":"CoFFormer","OT":0.086},{"step":92,"model":"CoFFormer","OT":0.027},{"step":93,"model":"CoFFormer","OT":-0.041},{"step":94,"model":"CoFFormer","OT":-0.138},{"step":95,"model":"CoFFormer","OT":-0.236},{"step":96,"model":"CoFFormer","OT":-0.343},

      {"step":1,"model":"Ground Truth","OT":-0.528},{"step":2,"model":"Ground Truth","OT":-0.586},{"step":3,"model":"Ground Truth","OT":-0.625},{"step":4,"model":"Ground Truth","OT":-0.66},{"step":5,"model":"Ground Truth","OT":-0.723},{"step":6,"model":"Ground Truth","OT":-0.762},{"step":7,"model":"Ground Truth","OT":-0.772},{"step":8,"model":"Ground Truth","OT":-0.772},{"step":9,"model":"Ground Truth","OT":-0.791},{"step":10,"model":"Ground Truth","OT":-0.81},
      {"step":11,"model":"Ground Truth","OT":-0.645},{"step":12,"model":"Ground Truth","OT":-0.47},{"step":13,"model":"Ground Truth","OT":-0.333},{"step":14,"model":"Ground Truth","OT":-0.08},{"step":15,"model":"Ground Truth","OT":0.134},{"step":16,"model":"Ground Truth","OT":0.29},{"step":17,"model":"Ground Truth","OT":0.505},{"step":18,"model":"Ground Truth","OT":0.69},{"step":19,"model":"Ground Truth","OT":0.641},{"step":20,"model":"Ground Truth","OT":0.505},
      {"step":21,"model":"Ground Truth","OT":0.358},{"step":22,"model":"Ground Truth","OT":0.173},{"step":23,"model":"Ground Truth","OT":-0.021},{"step":24,"model":"Ground Truth","OT":-0.197},{"step":25,"model":"Ground Truth","OT":-0.3},{"step":26,"model":"Ground Truth","OT":-0.38},{"step":27,"model":"Ground Truth","OT":-0.45},{"step":28,"model":"Ground Truth","OT":-0.528},{"step":29,"model":"Ground Truth","OT":-0.596},{"step":30,"model":"Ground Truth","OT":-0.655},
      {"step":31,"model":"Ground Truth","OT":-0.703},{"step":32,"model":"Ground Truth","OT":-0.742},{"step":33,"model":"Ground Truth","OT":-0.781},{"step":34,"model":"Ground Truth","OT":-0.81},{"step":35,"model":"Ground Truth","OT":-0.645},{"step":36,"model":"Ground Truth","OT":-0.411},{"step":37,"model":"Ground Truth","OT":-0.158},{"step":38,"model":"Ground Truth","OT":0.056},{"step":39,"model":"Ground Truth","OT":0.173},{"step":40,"model":"Ground Truth","OT":0.329},
      {"step":41,"model":"Ground Truth","OT":0.505},{"step":42,"model":"Ground Truth","OT":0.67},{"step":43,"model":"Ground Truth","OT":0.612},{"step":44,"model":"Ground Truth","OT":0.446},{"step":45,"model":"Ground Truth","OT":0.271},{"step":46,"model":"Ground Truth","OT":0.095},{"step":47,"model":"Ground Truth","OT":-0.06},{"step":48,"model":"Ground Truth","OT":-0.197},{"step":49,"model":"Ground Truth","OT":-0.304},{"step":50,"model":"Ground Truth","OT":-0.377},
      {"step":51,"model":"Ground Truth","OT":-0.401},{"step":52,"model":"Ground Truth","OT":-0.47},{"step":53,"model":"Ground Truth","OT":-0.547},{"step":54,"model":"Ground Truth","OT":-0.625},{"step":55,"model":"Ground Truth","OT":-0.684},{"step":56,"model":"Ground Truth","OT":-0.723},{"step":57,"model":"Ground Truth","OT":-0.772},{"step":58,"model":"Ground Truth","OT":-0.81},{"step":59,"model":"Ground Truth","OT":-0.723},{"step":60,"model":"Ground Truth","OT":-0.47},
      {"step":61,"model":"Ground Truth","OT":-0.138},{"step":62,"model":"Ground Truth","OT":0.193},{"step":63,"model":"Ground Truth","OT":0.514},{"step":64,"model":"Ground Truth","OT":0.544},{"step":65,"model":"Ground Truth","OT":0.446},{"step":66,"model":"Ground Truth","OT":0.349},{"step":67,"model":"Ground Truth","OT":0.388},{"step":68,"model":"Ground Truth","OT":0.378},{"step":69,"model":"Ground Truth","OT":0.29},{"step":70,"model":"Ground Truth","OT":0.154},
      {"step":71,"model":"Ground Truth","OT":-0.021},{"step":72,"model":"Ground Truth","OT":-0.177},{"step":73,"model":"Ground Truth","OT":-0.265},{"step":74,"model":"Ground Truth","OT":-0.333},{"step":75,"model":"Ground Truth","OT":-0.401},{"step":76,"model":"Ground Truth","OT":-0.45},{"step":77,"model":"Ground Truth","OT":-0.489},{"step":78,"model":"Ground Truth","OT":-0.489},{"step":79,"model":"Ground Truth","OT":-0.538},{"step":80,"model":"Ground Truth","OT":-0.596},
      {"step":81,"model":"Ground Truth","OT":-0.635},{"step":82,"model":"Ground Truth","OT":-0.674},{"step":83,"model":"Ground Truth","OT":-0.547},{"step":84,"model":"Ground Truth","OT":-0.392},{"step":85,"model":"Ground Truth","OT":-0.08},{"step":86,"model":"Ground Truth","OT":0.232},{"step":87,"model":"Ground Truth","OT":0.466},{"step":88,"model":"Ground Truth","OT":0.602},{"step":89,"model":"Ground Truth","OT":0.738},{"step":90,"model":"Ground Truth","OT":0.846},
      {"step":91,"model":"Ground Truth","OT":0.758},{"step":92,"model":"Ground Truth","OT":0.67},{"step":93,"model":"Ground Truth","OT":0.485},{"step":94,"model":"Ground Truth","OT":0.349},{"step":95,"model":"Ground Truth","OT":0.193},{"step":96,"model":"Ground Truth","OT":0.095}
    ]
  },
  "spacing": 38,
  "resolve": {"scale": {"x": "independent", "y": "independent", "color": "shared", "strokeDash": "shared", "strokeWidth": "shared"}},
  "hconcat": [
    {
      "width": 1470,
      "height": 923,
      "title": "(a) ETTh2, 24-step",
      "layer": [
        {
          "data": {"name": "h24"},
          "mark": {"type": "line", "strokeCap": "butt", "strokeJoin": "round"},
          "encoding": {
            "x": {"field": "step", "type": "quantitative", "scale": {"domain": [1, 24], "nice": false, "zero": false}, "axis": {"orient": "bottom", "title": "Forecast Horizon", "values": [1, 6, 12, 18, 24], "format": "d", "grid": true, "titlePadding": 24}},
            "y": {"field": "OT", "type": "quantitative", "scale": {"domain": [-0.93, 0.974], "nice": false, "zero": false}, "axis": {"orient": "left", "title": "OT", "values": [-0.8, -0.4, 0, 0.4, 0.8], "format": ".2f", "grid": true, "titlePadding": 36}},
            "color": {"field": "model", "type": "nominal", "scale": {"domain": ["Ground Truth", "Informer", "Reformer", "PatchTST", "CoFFormer", "Autoformer", "BiLSTM", "TimesNet"], "range": ["#000000", "#1A78B8", "#FF1493", "#0E8A58", "#E32A2A", "#A02BE6", "#14BFC6", "#FF8C1A"]}, "legend": {"title": null, "orient": "none", "legendX": 638, "legendY": 1193, "direction": "horizontal", "columns": 4, "columnPadding": 54, "rowPadding": -90, "symbolType": "stroke", "symbolSize": 12000, "labelFont": "Liberation Serif", "labelFontSize": 50, "labelColor": "black", "labelOffset": 18, "labelLimit": 0}},
            "strokeDash": {"field": "model", "type": "nominal", "scale": {"domain": ["Ground Truth", "Informer", "Reformer", "PatchTST", "CoFFormer", "Autoformer", "BiLSTM", "TimesNet"], "range": [[1, 0], [26, 11], [6, 10], [32, 12, 6, 12], [1, 0], [32, 12, 6, 12], [26, 11], [6, 10]]}, "legend": {"title": null, "orient": "none", "legendX": 638, "legendY": 1193, "direction": "horizontal", "columns": 4, "columnPadding": 54, "rowPadding": -90, "symbolType": "stroke", "symbolSize": 12000, "labelFont": "Liberation Serif", "labelFontSize": 50, "labelColor": "black", "labelOffset": 18, "labelLimit": 0}},
            "strokeWidth": {"field": "model", "type": "nominal", "scale": {"domain": ["Ground Truth", "Informer", "Reformer", "PatchTST", "CoFFormer", "Autoformer", "BiLSTM", "TimesNet"], "range": [8.5, 6, 6, 5.5, 9, 5.5, 7, 6]}, "legend": {"title": null, "orient": "none", "legendX": 638, "legendY": 1193, "direction": "horizontal", "columns": 4, "columnPadding": 54, "rowPadding": -90, "symbolType": "stroke", "symbolSize": 12000, "labelFont": "Liberation Serif", "labelFontSize": 50, "labelColor": "black", "labelOffset": 18, "labelLimit": 0}}
          }
        },
        {
          "data": {"values": [{}]},
          "mark": {"type": "rect", "fill": "white", "stroke": "#707070", "strokeWidth": 2.5, "cornerRadius": 9},
          "encoding": {
            "x": {"datum": 1.32, "type": "quantitative", "axis": {"orient": "top", "title": null, "labels": false, "values": [6, 12, 18], "grid": false}},
            "x2": {"datum": 8.04},
            "y": {"datum": 0.917, "type": "quantitative", "axis": {"orient": "right", "title": null, "labels": false, "values": [-0.8, -0.4, 0, 0.4, 0.8], "grid": false}},
            "y2": {"datum": 0.785}
          }
        },
        {
          "data": {"values": [{}]},
          "mark": {"type": "text", "text": "Sample index = 1188", "align": "left", "baseline": "middle", "font": "Liberation Serif", "fontSize": 48, "color": "black"},
          "encoding": {
            "x": {"datum": 1.466, "type": "quantitative", "axis": null},
            "y": {"datum": 0.851, "type": "quantitative", "axis": null}
          }
        }
      ],
      "resolve": {"axis": {"x": "independent", "y": "independent"}}
    },
    {
      "width": 1470,
      "height": 923,
      "title": "(b) ETTh2, 96-step",
      "layer": [
        {
          "data": {"name": "h96"},
          "mark": {"type": "line", "strokeCap": "butt", "strokeJoin": "round"},
          "encoding": {
            "x": {"field": "step", "type": "quantitative", "scale": {"domain": [1, 96], "nice": false, "zero": false}, "axis": {"orient": "bottom", "title": "Forecast Horizon", "values": [1, 24, 48, 72, 96], "format": "d", "grid": true, "titlePadding": 24}},
            "y": {"field": "OT", "type": "quantitative", "scale": {"domain": [-1.945, 1.053], "nice": false, "zero": false}, "axis": {"orient": "left", "title": "OT", "values": [-1.8, -1.2, -0.6, 0, 0.6], "format": ".2f", "grid": true, "titlePadding": 36}},
            "color": {"field": "model", "type": "nominal", "scale": {"domain": ["Ground Truth", "Informer", "Reformer", "PatchTST", "CoFFormer", "Autoformer", "BiLSTM", "TimesNet"], "range": ["#000000", "#1A78B8", "#FF1493", "#0E8A58", "#E32A2A", "#A02BE6", "#14BFC6", "#FF8C1A"]}, "legend": {"title": null, "orient": "none", "legendX": 638, "legendY": 1193, "direction": "horizontal", "columns": 4, "columnPadding": 54, "rowPadding": -90, "symbolType": "stroke", "symbolSize": 12000, "labelFont": "Liberation Serif", "labelFontSize": 50, "labelColor": "black", "labelOffset": 18, "labelLimit": 0}},
            "strokeDash": {"field": "model", "type": "nominal", "scale": {"domain": ["Ground Truth", "Informer", "Reformer", "PatchTST", "CoFFormer", "Autoformer", "BiLSTM", "TimesNet"], "range": [[1, 0], [26, 11], [6, 10], [32, 12, 6, 12], [1, 0], [32, 12, 6, 12], [26, 11], [6, 10]]}, "legend": {"title": null, "orient": "none", "legendX": 638, "legendY": 1193, "direction": "horizontal", "columns": 4, "columnPadding": 54, "rowPadding": -90, "symbolType": "stroke", "symbolSize": 12000, "labelFont": "Liberation Serif", "labelFontSize": 50, "labelColor": "black", "labelOffset": 18, "labelLimit": 0}},
            "strokeWidth": {"field": "model", "type": "nominal", "scale": {"domain": ["Ground Truth", "Informer", "Reformer", "PatchTST", "CoFFormer", "Autoformer", "BiLSTM", "TimesNet"], "range": [8.5, 6, 6, 5.5, 9, 5.5, 7, 6]}, "legend": {"title": null, "orient": "none", "legendX": 638, "legendY": 1193, "direction": "horizontal", "columns": 4, "columnPadding": 54, "rowPadding": -90, "symbolType": "stroke", "symbolSize": 12000, "labelFont": "Liberation Serif", "labelFontSize": 50, "labelColor": "black", "labelOffset": 18, "labelLimit": 0}}
          }
        },
        {
          "data": {"values": [{}]},
          "mark": {"type": "rect", "fill": "white", "stroke": "#707070", "strokeWidth": 2.5, "cornerRadius": 9},
          "encoding": {
            "x": {"datum": 2.17, "type": "quantitative", "axis": {"orient": "top", "title": null, "labels": false, "values": [24, 48, 72], "grid": false}},
            "x2": {"datum": 30.06},
            "y": {"datum": 0.962, "type": "quantitative", "axis": {"orient": "right", "title": null, "labels": false, "values": [-1.8, -1.2, -0.6, 0, 0.6], "grid": false}},
            "y2": {"datum": 0.761}
          }
        },
        {
          "data": {"values": [{}]},
          "mark": {"type": "text", "text": "Sample index = 1110", "align": "left", "baseline": "middle", "font": "Liberation Serif", "fontSize": 48, "color": "black"},
          "encoding": {
            "x": {"datum": 2.86, "type": "quantitative", "axis": null},
            "y": {"datum": 0.861, "type": "quantitative", "axis": null}
          }
        }
      ],
      "resolve": {"axis": {"x": "independent", "y": "independent"}}
    }
  ]
}
